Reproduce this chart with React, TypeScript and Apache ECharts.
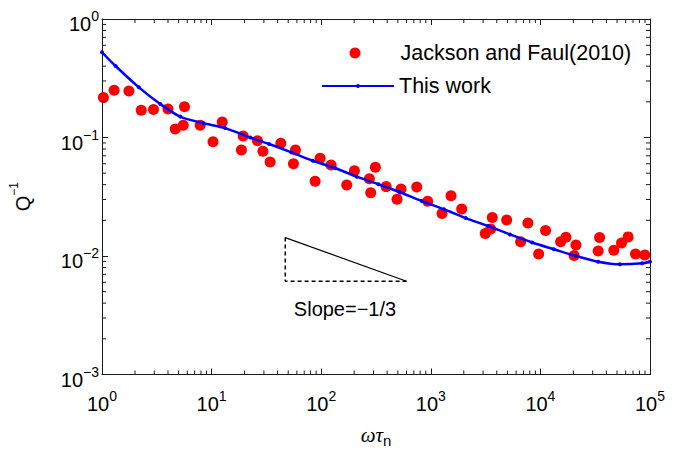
import React, { useEffect, useRef } from "react";
import * as echarts from "echarts";

// Jackson and Faul (2010) measurements
const jfX = [1.03, 1.29, 1.76, 2.28, 2.95, 4.0, 5.66, 4.66, 5.51, 7.87, 12.5, 10.3, 19.4, 18.7, 26.2, 29.4, 34.2, 42.8, 58.2, 55.8, 97.7, 88, 123, 171, 201, 275, 283, 312, 391, 492, 535, 744, 937, 1265, 1529, 1913, 3140, 3516, 3636, 4920, 6600, 7690, 9640, 11150, 15280, 17100, 21100, 20300, 33650, 34670, 46770, 54960, 63100, 73770, 89700];
const jfY = [0.218, 0.25, 0.247, 0.17, 0.172, 0.174, 0.182, 0.118, 0.127, 0.127, 0.135, 0.092, 0.103, 0.0785, 0.094, 0.0765, 0.0621, 0.0893, 0.0785, 0.0601, 0.0668, 0.0427, 0.0586, 0.0397, 0.0525, 0.0449, 0.0342, 0.0561, 0.0385, 0.0301, 0.0367, 0.0382, 0.029, 0.0228, 0.0323, 0.0249, 0.0155, 0.0169, 0.0211, 0.0201, 0.0132, 0.019, 0.0104, 0.0164, 0.0132, 0.0144, 0.0124, 0.0101, 0.011, 0.0143, 0.0112, 0.0129, 0.0145, 0.0104, 0.0102];

// This work (model curve)
const fitX = [1, 1.33, 2.17, 3.4, 5.17, 8.44, 13.3, 22.5, 33.5, 53.5, 83.8, 135, 211, 332, 524, 826, 1319, 2080, 3343, 5272, 8420, 13280, 21080, 33650, 53100, 84700, 100000];
const fitY = [0.524, 0.401, 0.265, 0.192, 0.15, 0.132, 0.12, 0.1, 0.0881, 0.075, 0.0637, 0.055, 0.0467, 0.0403, 0.0345, 0.0291, 0.0248, 0.0209, 0.0179, 0.0152, 0.013, 0.0114, 0.01, 0.00895, 0.00851, 0.00867, 0.00895];

// Slope triangle
const slopeX = [47, 600];
const slopeY = [0.0143, 0.00612];
const slopeLabel = "Slope=−1/3";

// Axes
const xMin = 1;
const xMax = 100000;
const yMin = 0.001;
const yMax = 1;
const xDecades = [1, 10, 100, 1000, 10000];
const yDecades = [0.001, 0.01, 0.1];
const minorMult = [2, 3, 4, 5, 6, 7, 8, 9];

const seriesNames = ["Jackson and Faul(2010)", "This work"];
const xName = "ωτ";
const xNameSub = "n";
const yName = "Q";
const yNameSup = "−1";

export default function App() {
  const ref = useRef<HTMLDivElement>(null);
  useEffect(() => {
    const chart = echarts.init(ref.current!, null, { renderer: "svg" });
    const font = "'Liberation Sans', Arial, sans-serif";
    const black = "#1a1a1a";
    const sup = (v: number) => {
      const e = Math.round(Math.log10(v));
      return `{b|10}{s|${e < 0 ? "−" + -e : e}}`;
    };
    const rich = {
      b: { fontSize: 20, lineHeight: 30, fontFamily: font, color: "#000" },
      s: { fontSize: 14, lineHeight: 14, verticalAlign: "top", fontFamily: font, color: "#000" },
    };
    const common: any = {
      type: "log",
      logBase: 10,
      axisLine: { show: true, onZero: false, lineStyle: { color: black, width: 1 } },
      axisTick: { show: true, inside: true, length: 6, lineStyle: { color: black, width: 1 } },
      splitLine: { show: false },
      minorTick: { show: false },
      minorSplitLine: { show: false },
    };
    const xMinor: number[][] = [];
    xDecades.forEach((d) => minorMult.forEach((m) => xMinor.push([d * m, 0.1])));
    const yMinor: number[][] = [];
    yDecades.forEach((d) => minorMult.forEach((m) => yMinor.push([10, d * m])));
    const tickLine = (x1: number, y1: number, x2: number, y2: number) => ({
      type: "line",
      shape: { x1, y1, x2, y2 },
      style: { stroke: black, lineWidth: 1 },
    });
    const legendText = { fontSize: 21.5, fontFamily: font, color: "#000", lineHeight: 22 };

    chart.setOption({
      animation: false,
      backgroundColor: "#fff",
      textStyle: { fontFamily: font },
      grid: { left: 102, top: 19, right: 31, bottom: 75.5, containLabel: false, outerBoundsMode: "none" },
      legend: [
        {
          data: [seriesNames[0]],
          left: 349.5,
          top: 42,
          padding: 0,
          itemWidth: 11,
          itemHeight: 11,
          textStyle: { ...legendText, padding: [0, 0, 0, 35] },
          selectedMode: false,
        },
        {
          data: [seriesNames[1]],
          left: 321,
          top: 75,
          padding: 0,
          itemWidth: 72,
          itemHeight: 5,
          textStyle: legendText,
          selectedMode: false,
        },
      ],
      xAxis: [
        {
          ...common,
          min: xMin,
          max: xMax,
          position: "bottom",
          axisLabel: { formatter: sup, rich, margin: 14.5, showMinLabel: true, showMaxLabel: true },
          name: `{i|${xName}}{n|${xNameSub}}`,
          nameLocation: "middle",
          nameGap: 47.5,
          nameTextStyle: {
            rich: {
              i: { fontSize: 21, fontStyle: "italic", lineHeight: 26, fontFamily: "'Liberation Serif', serif", color: "#000" },
              n: { fontSize: 15, lineHeight: 12, verticalAlign: "bottom", fontFamily: font, color: "#000" },
            },
          },
        },
        {
          ...common,
          min: xMin,
          max: xMax,
          position: "top",
          axisLabel: { show: false },
        },
      ],
      yAxis: [
        {
          ...common,
          min: yMin,
          max: yMax,
          position: "left",
          axisLabel: {
            formatter: sup,
            rich,
            margin: 3,
            padding: [10, 0, 0, 0],
            showMinLabel: true,
            showMaxLabel: true,
          },
          name: `{q|${yName}}{s|${yNameSup}}`,
          nameLocation: "middle",
          nameRotate: 90,
          nameGap: 64,
          nameTextStyle: {
            rich: {
              q: { fontSize: 20, lineHeight: 30, fontFamily: font, color: "#000" },
              s: { fontSize: 12, lineHeight: 12, verticalAlign: "top", fontFamily: font, color: "#000" },
            },
          },
        },
        {
          ...common,
          min: yMin,
          max: yMax,
          position: "right",
          axisLabel: { show: false },
        },
      ],
      series: [
        {
          type: "custom",
          silent: true,
          xAxisIndex: 0,
          yAxisIndex: 0,
          data: xMinor,
          encode: { x: 0, y: 1 },
          z: 5,
          renderItem: (params: any, api: any) => {
            const p = api.coord([api.value(0), api.value(1)]);
            const cs = params.coordSys;
            const top = cs.y;
            const bot = cs.y + cs.height;
            return {
              type: "group",
              children: [tickLine(p[0], bot, p[0], bot - 4), tickLine(p[0], top, p[0], top + 4)],
            };
          },
        },
        {
          type: "custom",
          silent: true,
          xAxisIndex: 0,
          yAxisIndex: 0,
          data: yMinor,
          encode: { x: 0, y: 1 },
          z: 5,
          renderItem: (params: any, api: any) => {
            const p = api.coord([api.value(0), api.value(1)]);
            const cs = params.coordSys;
            const l = cs.x;
            const r = cs.x + cs.width;
            return {
              type: "group",
              children: [tickLine(l, p[1], l + 4, p[1]), tickLine(r, p[1], r - 4, p[1])],
            };
          },
        },
        {
          type: "line",
          silent: true,
          showSymbol: false,
          data: [
            [slopeX[0], slopeY[0]],
            [slopeX[1], slopeY[1]],
          ],
          lineStyle: { color: "#000", width: 1.2 },
          itemStyle: { color: "#000" },
          z: 3,
        },
        {
          type: "line",
          silent: true,
          showSymbol: false,
          data: [
            [slopeX[0], slopeY[0]],
            [slopeX[0], slopeY[1]],
            [slopeX[1], slopeY[1]],
          ],
          lineStyle: { color: "#000", width: 1.5, type: [4, 3] },
          itemStyle: { color: "#000" },
          z: 3,
        },
        {
          name: seriesNames[0],
          type: "scatter",
          symbol: "circle",
          symbolSize: 11,
          itemStyle: { color: "#ff0000", opacity: 1 },
          data: jfX.map((x, i) => [x, jfY[i]]),
          z: 4,
        },
        {
          name: seriesNames[1],
          type: "line",
          smooth: 0.3,
          symbol: "circle",
          symbolSize: 4,
          showSymbol: true,
          lineStyle: { color: "#0000ff", width: 2.5 },
          itemStyle: { color: "#0000ff" },
          data: fitX.map((x, i) => [x, fitY[i]]),
          z: 6,
        },
      ],
      graphic: [
        {
          type: "text",
          x: 345,
          y: 309,
          style: {
            text: slopeLabel,
            fontSize: 20,
            fontFamily: font,
            fill: "#000",
            align: "center",
            verticalAlign: "middle",
          },
        },
      ],
    });
    return () => chart.dispose();
  }, []);
  return (
    <div
      ref={ref}
      style={{ width: 681, height: 450, position: "fixed", left: 0, top: 0, background: "#fff" }}
    />
  );
}
